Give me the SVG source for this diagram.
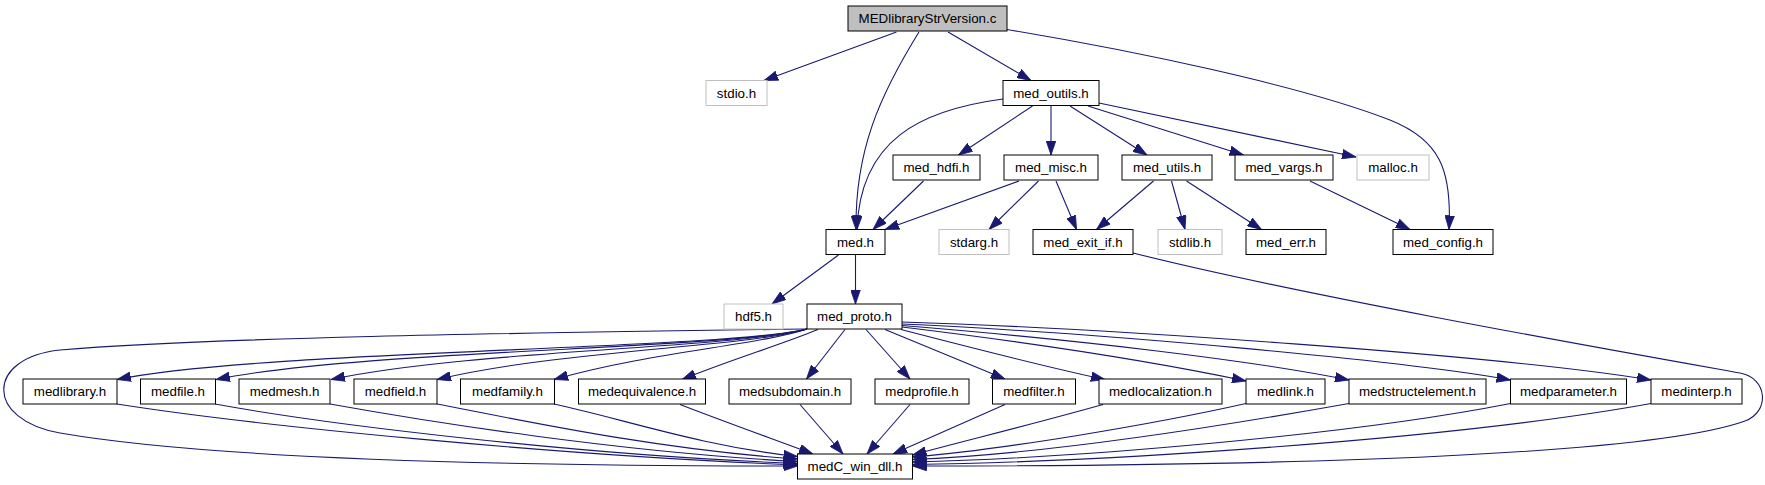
<svg xmlns="http://www.w3.org/2000/svg" width="1765" height="485" viewBox="0 0 1765 485">
<style>
.n rect{fill:#ffffff;stroke:#000000;stroke-width:1}
.n.g rect{stroke:#bfbfbf}
.n.r rect{fill:#bfbfbf}
.n text{font-family:"Liberation Sans",Arial,sans-serif;font-size:13.33px;fill:#000000;text-anchor:middle}
#edges path{fill:none;stroke:#191970;stroke-width:1.1;marker-end:url(#ah)}
</style>
<defs>
<marker id="ah" viewBox="0 0 14 10" refX="14" refY="5" markerWidth="14" markerHeight="10" markerUnits="userSpaceOnUse" orient="auto">
<path d="M0,0.2 L14,5 L0,9.8 Z" fill="#191970" stroke="#191970" stroke-width="0.8"/>
</marker>
</defs>
<rect width="1765" height="485" fill="#ffffff"/>
<g id="edges">
<path d="M896.5,32 L764,80.5"/>
<path d="M919,32 C880,95 855,150 856,229.5"/>
<path d="M948,32 L1031,80.5"/>
<path d="M1007,29.5 C1130,50 1300,85 1390,120 C1440,140 1452,170 1449,229.5"/>
<path d="M1003,99 C920,110 860,140 857,229.5"/>
<path d="M1032.5,106 L958.5,155"/>
<path d="M1051,106 L1051,155"/>
<path d="M1070,106 L1147,155"/>
<path d="M1088,106 L1243.5,155"/>
<path d="M1099,103 L1356,157"/>
<path d="M923.5,181 L873,229.5"/>
<path d="M1019,181 L885,229.5"/>
<path d="M1038.5,181 L989,229.5"/>
<path d="M1056,181 L1076.5,229.5"/>
<path d="M1153.5,181 L1096.5,229.5"/>
<path d="M1171.5,181 L1185,229.5"/>
<path d="M1186.5,181 L1261.5,229.5"/>
<path d="M1310,181 L1410,229.5"/>
<path d="M838.5,255 L772,304"/>
<path d="M855.5,255 L855.5,304"/>
<path d="M807,329 C720,350 260,350 117,379.5"/>
<path d="M807,329 C730,349 360,350 216,379.5"/>
<path d="M807,329 C740,348 470,350 331,379.5"/>
<path d="M807,329 C750,347 560,350 437,379.5"/>
<path d="M807,329 C760,345 650,352 554,379.5"/>
<path d="M818,329.5 C780,345 730,360 682,379.5"/>
<path d="M845,329.5 L806.5,379"/>
<path d="M866,329.5 L910,379"/>
<path d="M885,329.5 L1005,379"/>
<path d="M901,329.5 C980,350 1060,370 1105,379.5"/>
<path d="M902,327 C1050,345 1170,365 1246,381"/>
<path d="M902,325.5 C1080,340 1250,360 1349,380"/>
<path d="M902,324 C1100,333 1400,360 1510.5,380"/>
<path d="M902,322 C1100,328 1500,355 1651,380"/>
<path d="M807,329 C500,333 200,338 60,350 C-15,358 -15,420 60,433 C210,459 500,466 797.5,466"/>
<path d="M117,404 C250,425 550,455 797.5,465"/>
<path d="M215,404 C330,425 580,455 797.5,463.5"/>
<path d="M330,404 C430,422 620,452 797.5,461.5"/>
<path d="M437,404 C520,420 660,450 797.5,459"/>
<path d="M554,404 C620,418 700,446 797.5,456.5"/>
<path d="M680,404.5 C720,420 770,438 813,454"/>
<path d="M800,404.5 L843,454"/>
<path d="M910,404.5 L867,454"/>
<path d="M1005,404.5 L893,454"/>
<path d="M1103,404.5 C1030,425 960,442 912.5,455"/>
<path d="M1246,403.5 C1150,425 1000,450 912.5,457"/>
<path d="M1349,403.5 C1200,430 1030,455 912.5,459.5"/>
<path d="M1510.5,403.5 C1350,435 1080,458 912.5,462"/>
<path d="M1651,403.5 C1450,440 1100,462 912.5,464.5"/>
<path d="M1133,253 C1300,295 1600,348 1740,373 C1768,378 1770,412 1745,421 C1650,455 1300,466 912.5,466"/>
</g>
<g id="n0" class="n r"><rect x="848" y="6" width="159" height="25"/><text x="927.5" y="23">MEDlibraryStrVersion.c</text></g>
<g id="n1" class="n g"><rect x="706" y="80.5" width="61" height="25"/><text x="736.5" y="97.5">stdio.h</text></g>
<g id="n2" class="n"><rect x="1003" y="80.5" width="96" height="25"/><text x="1051" y="97.5">med_outils.h</text></g>
<g id="n3" class="n"><rect x="893" y="155" width="87" height="25"/><text x="936.5" y="172">med_hdfi.h</text></g>
<g id="n4" class="n"><rect x="1004" y="155" width="94" height="25"/><text x="1051" y="172">med_misc.h</text></g>
<g id="n5" class="n"><rect x="1122" y="155" width="90" height="25"/><text x="1167" y="172">med_utils.h</text></g>
<g id="n6" class="n"><rect x="1235" y="155" width="98" height="25"/><text x="1284" y="172">med_vargs.h</text></g>
<g id="n7" class="n g"><rect x="1357" y="155" width="72" height="25"/><text x="1393" y="172">malloc.h</text></g>
<g id="n8" class="n"><rect x="826" y="229.5" width="59" height="25"/><text x="855.5" y="246.5">med.h</text></g>
<g id="n9" class="n g"><rect x="939" y="229.5" width="70" height="25"/><text x="974" y="246.5">stdarg.h</text></g>
<g id="n10" class="n"><rect x="1033" y="229.5" width="100" height="25"/><text x="1083" y="246.5">med_exit_if.h</text></g>
<g id="n11" class="n g"><rect x="1158" y="229.5" width="64" height="25"/><text x="1190" y="246.5">stdlib.h</text></g>
<g id="n12" class="n"><rect x="1246" y="229.5" width="80" height="25"/><text x="1286" y="246.5">med_err.h</text></g>
<g id="n13" class="n"><rect x="1393" y="229.5" width="100" height="25"/><text x="1443" y="246.5">med_config.h</text></g>
<g id="n14" class="n g"><rect x="724" y="304" width="59" height="25"/><text x="753.5" y="321">hdf5.h</text></g>
<g id="n15" class="n"><rect x="807" y="304" width="95" height="25"/><text x="854.5" y="321">med_proto.h</text></g>
<g id="n16" class="n"><rect x="23" y="379" width="94" height="25"/><text x="70" y="396">medlibrary.h</text></g>
<g id="n17" class="n"><rect x="140.5" y="379" width="75" height="25"/><text x="178" y="396">medfile.h</text></g>
<g id="n18" class="n"><rect x="239" y="379" width="91" height="25"/><text x="284.5" y="396">medmesh.h</text></g>
<g id="n19" class="n"><rect x="354" y="379" width="83" height="25"/><text x="395.5" y="396">medfield.h</text></g>
<g id="n20" class="n"><rect x="460.5" y="379" width="94" height="25"/><text x="507.5" y="396">medfamily.h</text></g>
<g id="n21" class="n"><rect x="578.5" y="379" width="127" height="25"/><text x="642" y="396">medequivalence.h</text></g>
<g id="n22" class="n"><rect x="729" y="379" width="122" height="25"/><text x="790" y="396">medsubdomain.h</text></g>
<g id="n23" class="n"><rect x="875" y="379" width="94" height="25"/><text x="922" y="396">medprofile.h</text></g>
<g id="n24" class="n"><rect x="992.5" y="379" width="83" height="25"/><text x="1034" y="396">medfilter.h</text></g>
<g id="n25" class="n"><rect x="1099" y="379" width="123" height="25"/><text x="1160.5" y="396">medlocalization.h</text></g>
<g id="n26" class="n"><rect x="1246" y="379" width="79" height="25"/><text x="1285.5" y="396">medlink.h</text></g>
<g id="n27" class="n"><rect x="1349" y="379" width="137" height="25"/><text x="1417.5" y="396">medstructelement.h</text></g>
<g id="n28" class="n"><rect x="1510.5" y="379" width="116" height="25"/><text x="1568.5" y="396">medparameter.h</text></g>
<g id="n29" class="n"><rect x="1651" y="379" width="91" height="25"/><text x="1696.5" y="396">medinterp.h</text></g>
<g id="n30" class="n"><rect x="797.5" y="454" width="115" height="25"/><text x="855" y="471">medC_win_dll.h</text></g>
</svg>
